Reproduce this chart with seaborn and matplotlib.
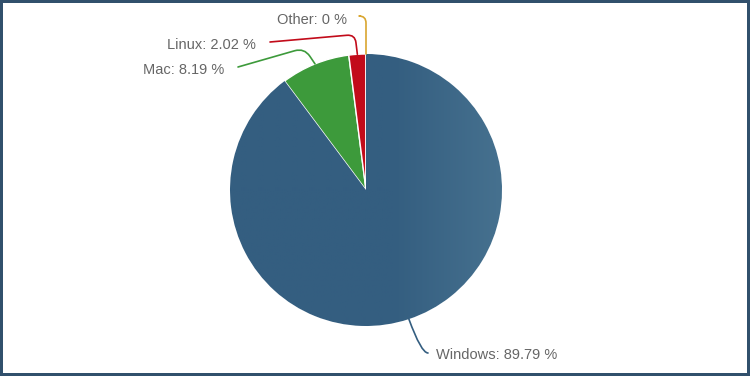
import numpy as np
import seaborn as sns
import matplotlib.pyplot as plt
from matplotlib.colors import LinearSegmentedColormap

# data
labels = ["Windows", "Mac", "Linux", "Other"]
shares = [89.79, 8.19, 2.02, 0]
colors = ["#345e80", "#3d9a3b", "#c20b1a", "#d9a630"]

sns.set_theme(style="white")
plt.rcParams['font.family'] = ['Liberation Sans', 'DejaVu Sans']


def main():
    fig = plt.figure(figsize=(7.5, 3.76), dpi=100, edgecolor="#31506c", linewidth=3)
    ax = fig.add_axes([0, 0, 1, 1])

    cx, cy, r = 366, 186, 136
    wedges, _ = ax.pie(shares, colors=colors, startangle=90, counterclock=False,
                       center=(cx, cy), radius=r,
                       wedgeprops=dict(edgecolor="white", linewidth=1))
    ax.set_xlim(0, 750)
    ax.set_ylim(0, 376)
    ax.set_aspect("equal")
    ax.axis("off")

    # horizontal shading on the big slice
    cmap = LinearSegmentedColormap.from_list(
        "win", [(0, "#345e80"), (0.6, "#345e80"), (1, "#46718f")])
    grad = np.linspace(0, 1, 256).reshape(1, -1)
    img = ax.imshow(grad, cmap=cmap, extent=(cx - r, cx + r, cy - r, cy + r),
                    aspect="auto", zorder=wedges[0].get_zorder() + 0.1)
    img.set_clip_path(wedges[0])

    # label layout: text anchor, alignment, connector start, connection style
    layout = {
        "Windows": ((436, 21), "left", (428, 23), "angle3,angleA=0,angleB=110"),
        "Mac": ((224, 306), "right", (238, 309), "angle,angleA=16,angleB=124,rad=10"),
        "Linux": ((256, 331), "right", (270, 334), "angle,angleA=5,angleB=97,rad=8"),
        "Other": ((347, 356), "right", (360, 360), "angle,angleA=0,angleB=90,rad=7"),
    }

    for w, lab, val, col in zip(wedges, labels, shares, colors):
        mid = np.deg2rad((w.theta1 + w.theta2) / 2)
        edge = (cx + r * np.cos(mid), cy + r * np.sin(mid))
        (tx, ty), ha, start, style = layout[lab]
        ax.text(tx, ty, f"{lab}: {val:g} %", ha=ha, va="center",
                fontsize=10.5, color="#666666")
        ax.annotate("", xy=edge, xytext=start,
                    arrowprops=dict(arrowstyle="-", color=col, lw=1.2,
                                    connectionstyle=style,
                                    shrinkA=0, shrinkB=0))

    fig.savefig("out.png", dpi=100, edgecolor=fig.get_edgecolor())


if __name__ == "__main__":
    main()
